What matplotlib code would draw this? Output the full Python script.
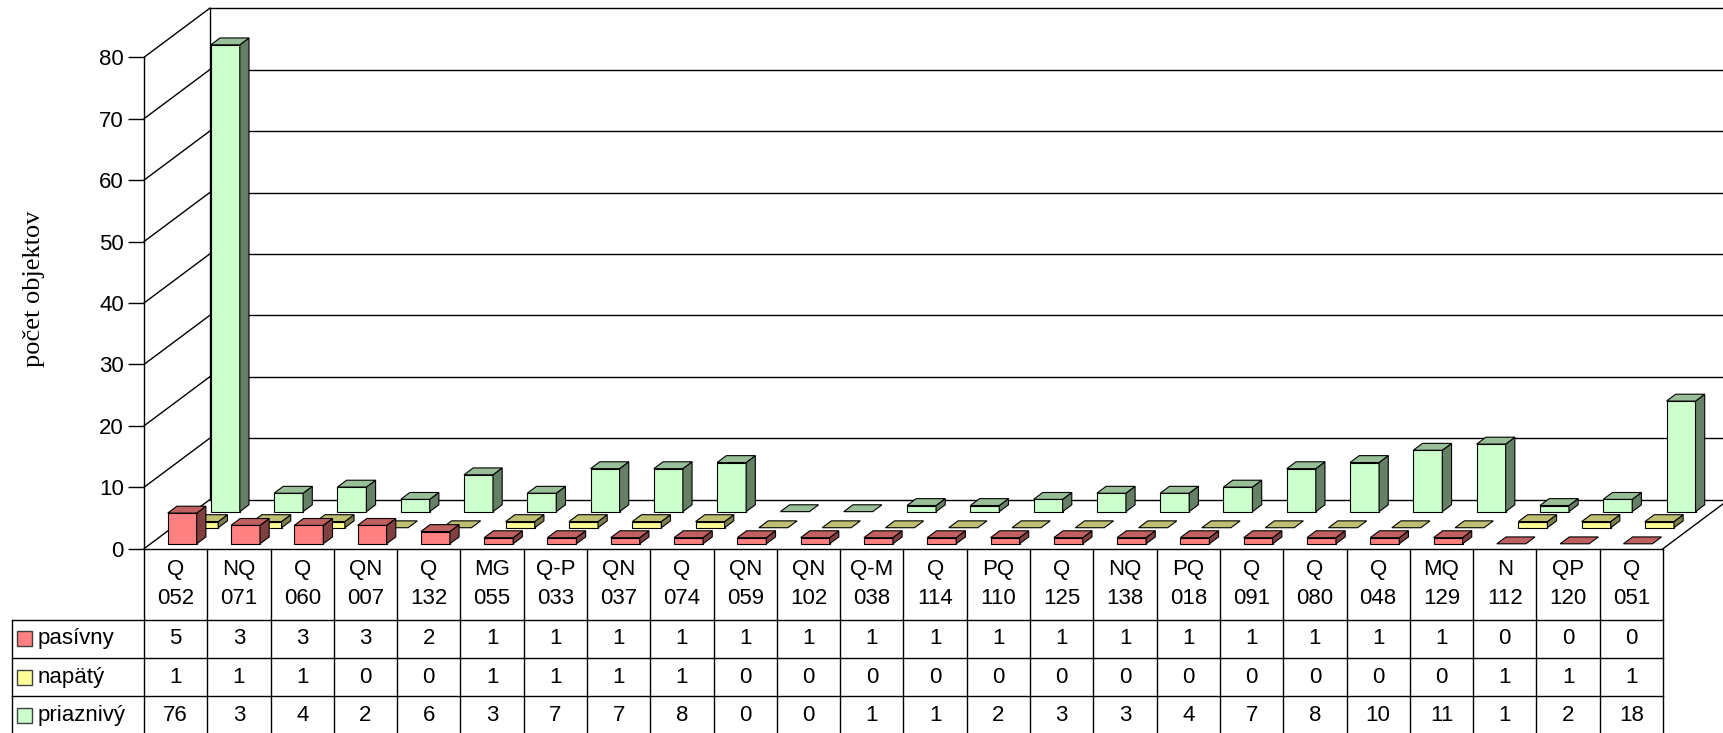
import matplotlib
matplotlib.use("Agg")
import matplotlib.pyplot as plt

plt.rcParams['font.family'] = ['Liberation Sans', 'DejaVu Sans']

# Данные из таблицы под графиком
labels = ["Q\n052", "NQ\n071", "Q\n060", "QN\n007", "Q\n132", "MG\n055", "Q-P\n033",
          "QN\n037", "Q\n074", "QN\n059", "QN\n102", "Q-M\n038", "Q\n114", "PQ\n110",
          "Q\n125", "NQ\n138", "PQ\n018", "Q\n091", "Q\n080", "Q\n048", "MQ\n129",
          "N\n112", "QP\n120", "Q\n051"]
pasivny = [5, 3, 3, 3, 2, 1, 1, 1, 1, 1, 1, 1, 1, 1, 1, 1, 1, 1, 1, 1, 1, 0, 0, 0]
napaty = [1, 1, 1, 0, 0, 1, 1, 1, 1, 0, 0, 0, 0, 0, 0, 0, 0, 0, 0, 0, 0, 1, 1, 1]
priaznivy = [76, 3, 4, 2, 6, 3, 7, 7, 8, 0, 0, 1, 1, 2, 3, 3, 4, 7, 8, 10, 11, 1, 2, 18]
series_names = ["pasívny", "napätý", "priaznivý"]

# цвета: передняя грань, верх, бок
colors = [("#FF8080", "#C06060", "#804040"),
          ("#FFFF99", "#BFBF73", "#80804D"),
          ("#CCFFCC", "#99BF99", "#668066")]

n = len(labels)
DX, DY = 1.038, 7.98          # смещение глубины (в единицах осей)
bar_w = 0.458
bar_d = 0.14
depths = [0.10, 0.428, 0.756]
ymax = 80

fig = plt.figure(figsize=(17.24, 7.33), dpi=100)
ax = fig.add_axes([144 / 1724, 1 - 548.7 / 733, (1663 - 144) / 1724, (548.7 - 57.3) / 733])
ax.set_xlim(0, n)
ax.set_ylim(0, ymax)

line_kw = dict(color='black', lw=1.0, clip_on=False, zorder=1)

# левая стенка и задняя стенка с сеткой
for v in range(0, ymax + 1, 10):
    ax.plot([0, DX], [v, v + DY], **line_kw)
    ax.plot([DX, n + DX + 1], [v + DY, v + DY], **line_kw)
ax.plot([DX, DX], [DY, ymax + DY], **line_kw)
# пол
ax.plot([0, n], [0, 0], **line_kw)
ax.plot([n, n + DX], [0, DY], **line_kw)


def bar3d(x0, y0, h, dx, dy, cols, z):
    front, top, side = cols
    ek = dict(edgecolor='black', linewidth=0.8, clip_on=False, zorder=z)
    if h > 0:
        ax.fill([x0, x0 + bar_w, x0 + bar_w, x0], [y0, y0, y0 + h, y0 + h], facecolor=front, **ek)
        ax.fill([x0 + bar_w, x0 + bar_w + dx, x0 + bar_w + dx, x0 + bar_w],
                [y0, y0 + dy, y0 + h + dy, y0 + h], facecolor=side, **ek)
    ax.fill([x0, x0 + bar_w, x0 + bar_w + dx, x0 + dx],
            [y0 + h, y0 + h, y0 + h + dy, y0 + h + dy], facecolor=top, **ek)


all_series = [pasivny, napaty, priaznivy]
# рисуем от заднего ряда к переднему
for k in [2, 1, 0]:
    d = depths[k]
    for i, v in enumerate(all_series[k]):
        x0 = i + 0.5 - bar_w / 2 + d * DX
        bar3d(x0, d * DY, v, bar_d * DX, bar_d * DY, colors[k], 3 + (2 - k))

# ось Y
for s in ['top', 'right', 'bottom']:
    ax.spines[s].set_visible(False)
ax.spines['left'].set_bounds(0, ymax)
ax.spines['left'].set_linewidth(1.0)
ax.set_xticks([])
ax.set_yticks(range(0, ymax + 1, 10))
ax.tick_params(axis='y', length=11.5, width=1, pad=3, labelsize=16)
ax.patch.set_visible(False)

fig.text(34 / 1724, 1 - 289 / 733, "počet objektov", rotation=90, ha='center', va='center',
         fontsize=19, family=['Liberation Serif', 'DejaVu Serif'])

# таблица данных
uy = 6.1425
head_bot = -71 / uy
row_h = 38.3 / uy
leg_left = (11.7 - 144) / 63.29
tk = dict(color='black', lw=1.0, clip_on=False, zorder=1)
y_bottom = head_bot - 3 * row_h
for i in range(n + 1):
    ax.plot([i, i], [0, y_bottom], **tk)
for r in range(4):
    yy = head_bot - r * row_h
    ax.plot([leg_left, n], [yy, yy], **tk)
ax.plot([leg_left, leg_left], [head_bot, y_bottom], **tk)

for i, lab in enumerate(labels):
    top_txt, bot_txt = lab.split("\n")
    ax.text(i + 0.5, -21 / uy, top_txt, ha='center', va='center', fontsize=16, clip_on=False)
    ax.text(i + 0.5, -50 / uy, bot_txt, ha='center', va='center', fontsize=16, clip_on=False)

sq_w = 15 / 63.29
sq_h = 15 / uy
for r, (name, vals) in enumerate(zip(series_names, all_series)):
    yc = head_bot - (r + 0.5) * row_h
    x_sq = (16.7 - 144) / 63.29
    ax.fill([x_sq, x_sq + sq_w, x_sq + sq_w, x_sq],
            [yc - sq_h / 2, yc - sq_h / 2, yc + sq_h / 2, yc + sq_h / 2],
            facecolor=colors[r][0], edgecolor='#404040', linewidth=1.0, clip_on=False)
    ax.text((37.3 - 144) / 63.29, yc, name, ha='left', va='center', fontsize=16, clip_on=False)
    for i, v in enumerate(vals):
        ax.text(i + 0.5, yc, str(v), ha='center', va='center', fontsize=16, clip_on=False)

fig.savefig("out.png", dpi=100)
